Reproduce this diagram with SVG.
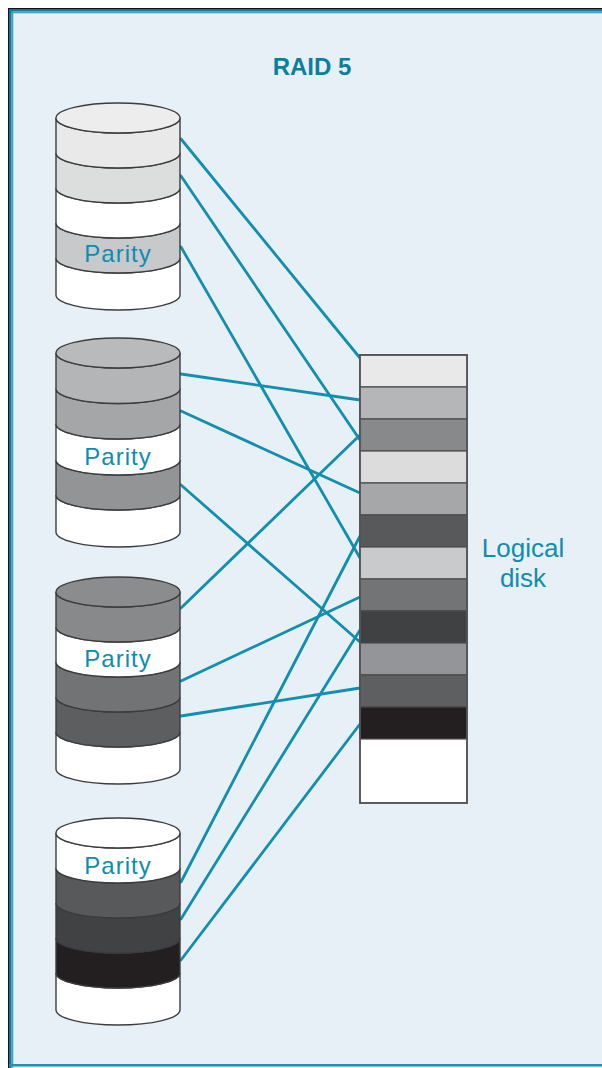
<svg xmlns="http://www.w3.org/2000/svg" width="602" height="1068" viewBox="0 0 602 1068">
  <style>
    .band { stroke: #3c3c3e; stroke-width: 1.4; }
    .strip { stroke: #4a4a4c; stroke-width: 1.2; }
    .link { stroke: #128eb0; stroke-width: 2.8; fill: none; stroke-linecap: round; }
    .lbl { font-family: "Liberation Sans", Arial, sans-serif; fill: #0f8db0; }
  </style>

  <!-- page frame -->
  <rect x="0" y="0" width="602" height="1068" fill="#ffffff"/>
  <rect x="9" y="9" width="593" height="1059" fill="#e7f0f6"/>
  <rect x="8" y="8" width="594" height="1.2" fill="#111111"/>
  <rect x="8" y="8" width="1.2" height="1060" fill="#111111"/>
  <rect x="9" y="9" width="593" height="2.5" fill="#0f7895"/>
  <rect x="9" y="11.5" width="593" height="1.8" fill="#3da2bf"/>
  <rect x="9" y="9" width="2.5" height="1059" fill="#0f7895"/>
  <rect x="11.5" y="11.5" width="1.8" height="1056" fill="#3da2bf"/>
  <rect x="9" y="1064" width="593" height="2.5" fill="#1f93b3"/>

  <text class="lbl" x="312" y="75" font-size="24" font-weight="bold" text-anchor="middle" style="fill:#0b7fa3">RAID 5</text>

  <!-- connectors: physical disk stripes to logical disk blocks -->
  <g id="connectors">
    <line class="link" x1="181" y1="139" x2="360" y2="358"/>
    <line class="link" x1="181" y1="176" x2="360" y2="440"/>
    <line class="link" x1="181" y1="247" x2="360" y2="558"/>
    <line class="link" x1="181" y1="374" x2="360" y2="400"/>
    <line class="link" x1="181" y1="411" x2="360" y2="493"/>
    <line class="link" x1="181" y1="485" x2="360" y2="642"/>
    <line class="link" x1="181" y1="608" x2="360" y2="435"/>
    <line class="link" x1="181" y1="681" x2="360" y2="597"/>
    <line class="link" x1="181" y1="716" x2="360" y2="688"/>
    <line class="link" x1="181" y1="882" x2="360" y2="536"/>
    <line class="link" x1="181" y1="919" x2="360" y2="630"/>
    <line class="link" x1="181" y1="960" x2="360" y2="724"/>
  </g>

  <!-- disk 1 -->
  <g id="disk1" transform="translate(56,118)">
    <path class="band" fill="#ffffff" d="M0,140 A62,15 0 0 0 124,140 L124,177 A62,15 0 0 1 0,177 Z"/>
    <path class="band" fill="#c8c9cb" d="M0,105 A62,15 0 0 0 124,105 L124,140 A62,15 0 0 1 0,140 Z"/>
    <path class="band" fill="#ffffff" d="M0,70 A62,15 0 0 0 124,70 L124,105 A62,15 0 0 1 0,105 Z"/>
    <path class="band" fill="#dcdddd" d="M0,35 A62,15 0 0 0 124,35 L124,70 A62,15 0 0 1 0,70 Z"/>
    <path class="band" fill="#e9e9ea" d="M0,0 A62,15 0 0 0 124,0 L124,35 A62,15 0 0 1 0,35 Z"/>
    <ellipse class="band" cx="62" cy="0" rx="62" ry="15" fill="#ededee"/>
    <text class="lbl" x="62" y="144" font-size="24" letter-spacing="1" text-anchor="middle">Parity</text>
  </g>

  <!-- disk 2 -->
  <g id="disk2" transform="translate(56,353)">
    <path class="band" fill="#ffffff" d="M0,142 A62,15 0 0 0 124,142 L124,179 A62,15 0 0 1 0,179 Z"/>
    <path class="band" fill="#929496" d="M0,107 A62,15 0 0 0 124,107 L124,142 A62,15 0 0 1 0,142 Z"/>
    <path class="band" fill="#ffffff" d="M0,71 A62,15 0 0 0 124,71 L124,107 A62,15 0 0 1 0,107 Z"/>
    <path class="band" fill="#a5a6a8" d="M0,35.5 A62,15 0 0 0 124,35.5 L124,71 A62,15 0 0 1 0,71 Z"/>
    <path class="band" fill="#b4b5b7" d="M0,0 A62,15 0 0 0 124,0 L124,35.5 A62,15 0 0 1 0,35.5 Z"/>
    <ellipse class="band" cx="62" cy="0" rx="62" ry="15" fill="#b9babc"/>
    <text class="lbl" x="62" y="112" font-size="24" letter-spacing="1" text-anchor="middle">Parity</text>
  </g>

  <!-- disk 3 -->
  <g id="disk3" transform="translate(56,592)">
    <path class="band" fill="#ffffff" d="M0,140 A62,15 0 0 0 124,140 L124,177 A62,15 0 0 1 0,177 Z"/>
    <path class="band" fill="#5d5e60" d="M0,105 A62,15 0 0 0 124,105 L124,140 A62,15 0 0 1 0,140 Z"/>
    <path class="band" fill="#727375" d="M0,70 A62,15 0 0 0 124,70 L124,105 A62,15 0 0 1 0,105 Z"/>
    <path class="band" fill="#ffffff" d="M0,35 A62,15 0 0 0 124,35 L124,70 A62,15 0 0 1 0,70 Z"/>
    <path class="band" fill="#88898b" d="M0,0 A62,15 0 0 0 124,0 L124,35 A62,15 0 0 1 0,35 Z"/>
    <ellipse class="band" cx="62" cy="0" rx="62" ry="15" fill="#8b8c8e"/>
    <text class="lbl" x="62" y="75" font-size="24" letter-spacing="1" text-anchor="middle">Parity</text>
  </g>

  <!-- disk 4 -->
  <g id="disk4" transform="translate(56,833)">
    <path class="band" fill="#ffffff" d="M0,140 A62,15 0 0 0 124,140 L124,177 A62,15 0 0 1 0,177 Z"/>
    <path class="band" fill="#231f20" d="M0,105 A62,15 0 0 0 124,105 L124,140 A62,15 0 0 1 0,140 Z"/>
    <path class="band" fill="#414244" d="M0,70 A62,15 0 0 0 124,70 L124,105 A62,15 0 0 1 0,105 Z"/>
    <path class="band" fill="#58595b" d="M0,35 A62,15 0 0 0 124,35 L124,70 A62,15 0 0 1 0,70 Z"/>
    <path class="band" fill="#ffffff" d="M0,0 A62,15 0 0 0 124,0 L124,35 A62,15 0 0 1 0,35 Z"/>
    <ellipse class="band" cx="62" cy="0" rx="62" ry="15" fill="#ffffff"/>
    <text class="lbl" x="62" y="41" font-size="24" letter-spacing="1" text-anchor="middle">Parity</text>
  </g>

  <!-- logical disk -->
  <g id="logical">
    <rect x="360" y="355" width="107" height="448" fill="#ffffff" stroke="#555557" stroke-width="1.6"/>
    <rect class="strip" x="360" y="355" width="107" height="32" fill="#e9e9ea"/>
    <rect class="strip" x="360" y="387" width="107" height="32" fill="#b5b6b8"/>
    <rect class="strip" x="360" y="419" width="107" height="32" fill="#88898b"/>
    <rect class="strip" x="360" y="451" width="107" height="32" fill="#dcdcdd"/>
    <rect class="strip" x="360" y="483" width="107" height="32" fill="#a6a7a9"/>
    <rect class="strip" x="360" y="515" width="107" height="32" fill="#58595b"/>
    <rect class="strip" x="360" y="547" width="107" height="32" fill="#c9cacc"/>
    <rect class="strip" x="360" y="579" width="107" height="32" fill="#737476"/>
    <rect class="strip" x="360" y="611" width="107" height="32" fill="#404143"/>
    <rect class="strip" x="360" y="643" width="107" height="32" fill="#939598"/>
    <rect class="strip" x="360" y="675" width="107" height="32" fill="#5e5f61"/>
    <rect class="strip" x="360" y="707" width="107" height="32" fill="#231f20"/>
    <rect x="360" y="355" width="107" height="448" fill="none" stroke="#555557" stroke-width="1.6"/>
  </g>

  <g id="logical-label">
    <text class="lbl" x="523" y="557" font-size="26" text-anchor="middle">Logical</text>
    <text class="lbl" x="523" y="587" font-size="26" text-anchor="middle">disk</text>
  </g>
</svg>
